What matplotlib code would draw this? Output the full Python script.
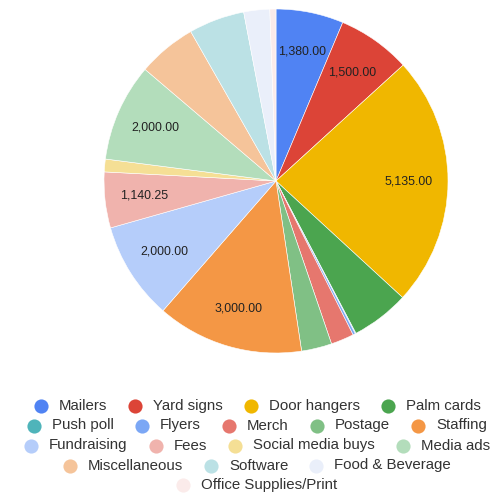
import matplotlib
matplotlib.use("Agg")
import matplotlib.pyplot as plt
from matplotlib.lines import Line2D
import numpy as np

categories = ["Mailers", "Yard signs", "Door hangers", "Palm cards", "Push poll",
              "Flyers", "Merch", "Postage", "Staffing", "Fundraising", "Fees",
              "Social media buys", "Media ads", "Miscellaneous", "Software",
              "Food & Beverage", "Office Supplies/Print"]
values = [1380.00, 1500.00, 5135.00, 1190.00, 15.00,
          50.00, 470.00, 620.00, 3000.00, 2000.00, 1140.25,
          260.00, 2000.00, 1200.00, 1140.00,
          530.00, 125.00]
labeled = ["Mailers", "Yard signs", "Door hangers", "Staffing", "Fundraising",
           "Fees", "Media ads"]
colors = ["#5083F3", "#DC4437", "#F0B700", "#4BA54F", "#4FB4BA",
          "#7BA7F5", "#E6776E", "#80C085", "#F49745", "#B5CDFA", "#F0B3AD",
          "#F5DF95", "#B3DDBB", "#F5C49A", "#BBE1E5", "#EAEFFA", "#FBEBEA"]
legend_rows = [
    ["Mailers", "Yard signs", "Door hangers", "Palm cards"],
    ["Push poll", "Flyers", "Merch", "Postage", "Staffing"],
    ["Fundraising", "Fees", "Social media buys", "Media ads"],
    ["Miscellaneous", "Software", "Food & Beverage"],
    ["Office Supplies/Print"],
]

W, H = 490, 495
fig = plt.figure(figsize=(W / 100, H / 100), dpi=100)
fig.patch.set_facecolor("white")

cx, cy, r = 276, 181, 172
ax = fig.add_axes([(cx - r) / W, (H - cy - r) / H, 2 * r / W, 2 * r / H])
wedges, _ = ax.pie(values, colors=colors, startangle=90, counterclock=False,
                   radius=1.0, wedgeprops=dict(edgecolor="white", linewidth=0.4))
ax.set_xlim(-1, 1)
ax.set_ylim(-1, 1)
ax.axis("off")

# value labels inside the larger slices
for name, val, w in zip(categories, values, wedges):
    if name not in labeled:
        continue
    mid = np.deg2rad((w.theta1 + w.theta2) / 2)
    d = 0.77
    ax.text(d * np.cos(mid), d * np.sin(mid), f"{val:,.2f}",
            ha="center", va="center", fontsize=8.9, color="#222222",
            family="Liberation Sans")

# centered legend rows with circular swatches
color_of = dict(zip(categories, colors))
renderer = fig.canvas.get_renderer()
row_y = [405.7, 425.5, 445.5, 465.5, 485.3]
legend_cx = 257
circ_half, gap_text, gap_next = 7, 18, 28
for names, y in zip(legend_rows, row_y):
    texts = []
    widths = []
    for n in names:
        t = fig.text(0, 1 - y / H, n, fontsize=10.8, color="#333333",
                     family="Liberation Sans", va="center", ha="left")
        texts.append(t)
        widths.append(t.get_window_extent(renderer).width)
    total = circ_half + sum(gap_text + w for w in widths) + gap_next * (len(names) - 1)
    x = legend_cx - total / 2 + circ_half
    for n, t, w in zip(names, texts, widths):
        fig.add_artist(Line2D([x / W], [1 - y / H], marker="o", markersize=10.2,
                              markerfacecolor=color_of[n], markeredgecolor="none",
                              linestyle="none", transform=fig.transFigure))
        t.set_x((x + gap_text) / W)
        x += gap_text + w + gap_next

fig.savefig("out.png", dpi=100, facecolor="white")
